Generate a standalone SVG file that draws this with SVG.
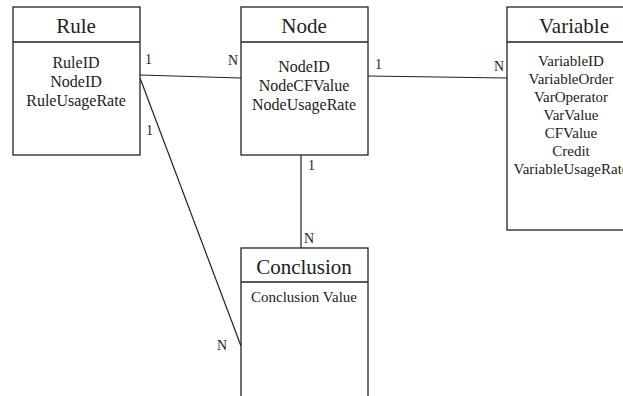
<svg xmlns="http://www.w3.org/2000/svg" width="623" height="396" viewBox="0 0 623 396">
<style>
.box{fill:#fff;stroke:#222;stroke-width:1.3}
.sep{stroke:#222;stroke-width:1.3}
.title{font-family:"Liberation Serif",serif;font-size:21px;fill:#222;text-anchor:middle}
.attr{font-family:"Liberation Serif",serif;font-size:16px;fill:#222;text-anchor:middle}
.attr2{font-family:"Liberation Serif",serif;font-size:15px;fill:#222;text-anchor:middle}
.card{font-family:"Liberation Serif",serif;font-size:14px;fill:#222}
.conn{stroke:#222;stroke-width:1.2;fill:none}
</style>
<rect width="623" height="396" fill="#fff"/>
<g id="connectors">
<line class="conn" x1="140" y1="75" x2="241" y2="78"/>
<line class="conn" x1="368" y1="76" x2="507" y2="78"/>
<line class="conn" x1="301" y1="155" x2="301" y2="248"/>
<line class="conn" x1="140" y1="78" x2="241" y2="346"/>
<text class="card" x="145" y="64">1</text>
<text class="card" x="228" y="65">N</text>
<text class="card" x="375" y="69">1</text>
<text class="card" x="494" y="71">N</text>
<text class="card" x="308" y="170">1</text>
<text class="card" x="304" y="243">N</text>
<text class="card" x="146" y="135">1</text>
<text class="card" x="217" y="350">N</text>
</g>
<g id="rule">
<rect class="box" x="13" y="7" width="127" height="148"/>
<line class="sep" x1="13" y1="42" x2="140" y2="42"/>
<text class="title" x="76" y="33">Rule</text>
<text class="attr" x="76" y="68">RuleID</text>
<text class="attr" x="76" y="87">NodeID</text>
<text class="attr" x="76" y="106">RuleUsageRate</text>
</g>
<g id="node">
<rect class="box" x="241" y="7" width="127" height="148"/>
<line class="sep" x1="241" y1="42" x2="368" y2="42"/>
<text class="title" x="304" y="33">Node</text>
<text class="attr" x="304" y="72">NodeID</text>
<text class="attr" x="304" y="91">NodeCFValue</text>
<text class="attr" x="304" y="110">NodeUsageRate</text>
</g>
<g id="variable">
<rect class="box" x="507" y="7" width="130" height="223"/>
<line class="sep" x1="507" y1="42" x2="637" y2="42"/>
<text class="title" x="574" y="33">Variable</text>
<text class="attr2" x="571" y="66">VariableID</text>
<text class="attr2" x="571" y="84">VariableOrder</text>
<text class="attr2" x="571" y="102">VarOperator</text>
<text class="attr2" x="571" y="120">VarValue</text>
<text class="attr2" x="571" y="138">CFValue</text>
<text class="attr2" x="571" y="156">Credit</text>
<text class="attr2" x="571" y="174">VariableUsageRate</text>
</g>
<g id="conclusion">
<rect class="box" x="241" y="248" width="127" height="160"/>
<line class="sep" x1="241" y1="282" x2="368" y2="282"/>
<text class="title" x="304" y="274">Conclusion</text>
<text class="attr2" x="304" y="302">Conclusion Value</text>
</g>
</svg>
